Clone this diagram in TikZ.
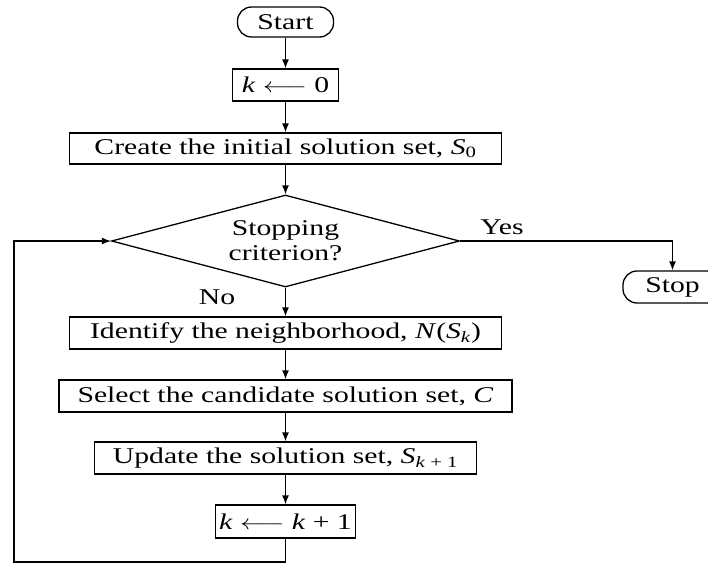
\documentclass[tikz,border=0pt]{standalone}
\usepackage{fontspec}
\setmainfont{Liberation Serif}[FakeStretch=1.32]
\usepackage{graphicx}
\usetikzlibrary{shapes.geometric,arrows.meta}
\newcommand{\larr}{\scalebox{1.32}[1]{$\longleftarrow$}}
\begin{document}
\begin{tikzpicture}[x=1pt,y=-1pt,
  font=\fontsize{22.5}{25}\selectfont,
  line width=1.3pt,
  box/.style={draw, rectangle, inner sep=0pt, minimum height=32pt, line width=1.3pt},
  term/.style={box, rounded corners=14pt},
  decision/.style={diamond, draw, shape aspect=3.78, inner sep=0pt, minimum width=348pt, minimum height=92pt, align=center, line width=1.3pt},
  lbl/.style={inner sep=0pt},
  arr/.style={-{Latex[length=9pt,width=7pt]}}]
\useasboundingbox (0,0) rectangle (708,564);

\node[term, minimum width=96pt, minimum height=30pt] (start) at (285.5,22) {Start};
\node[box, minimum width=106pt] (k0) at (285.5,85) {\textit{k} \larr{} 0};
\node[box, minimum width=432pt, minimum height=31pt] (create) at (285.5,148.5) {Create the initial solution set, \textit{S}\textsubscript{0}};
\node[decision] (dec) at (285.5,241) {Stopping\\criterion?};
\node[lbl] (yes) at (502,227) {Yes};
\node[lbl] (no) at (217,297) {No};
\node[term, minimum width=99pt] (stop) at (672.5,287) {Stop};
\node[box, minimum width=432pt] (ident) at (285.5,333) {Identify the neighborhood, \textit{N}(\textit{S}\textsubscript{\textit{k}})};
\node[box, minimum width=453pt] (select) at (285.5,396) {Select the candidate solution set, \textit{C}};
\node[box, minimum width=382pt] (update) at (285.5,458) {Update the solution set, \textit{S}\textsubscript{\textit{k} + 1}};
\node[box, minimum width=140pt, minimum height=33pt] (kk) at (285.5,521.5) {\textit{k} \larr{} \textit{k} + 1};
\coordinate (lb) at (14,562);

\draw[arr] (start) -- (k0);
\draw[arr] (k0) -- (create);
\draw[arr] (create) -- (dec);
\draw[arr] (dec.east) -| (stop.north);
\draw[arr] (dec) -- (ident);
\draw[arr] (ident) -- (select);
\draw[arr] (select) -- (update);
\draw[arr] (update) -- (kk);
\draw[arr] (kk.south) -- (kk.south |- lb) -- (lb) |- (dec.west);
\end{tikzpicture}
\end{document}
